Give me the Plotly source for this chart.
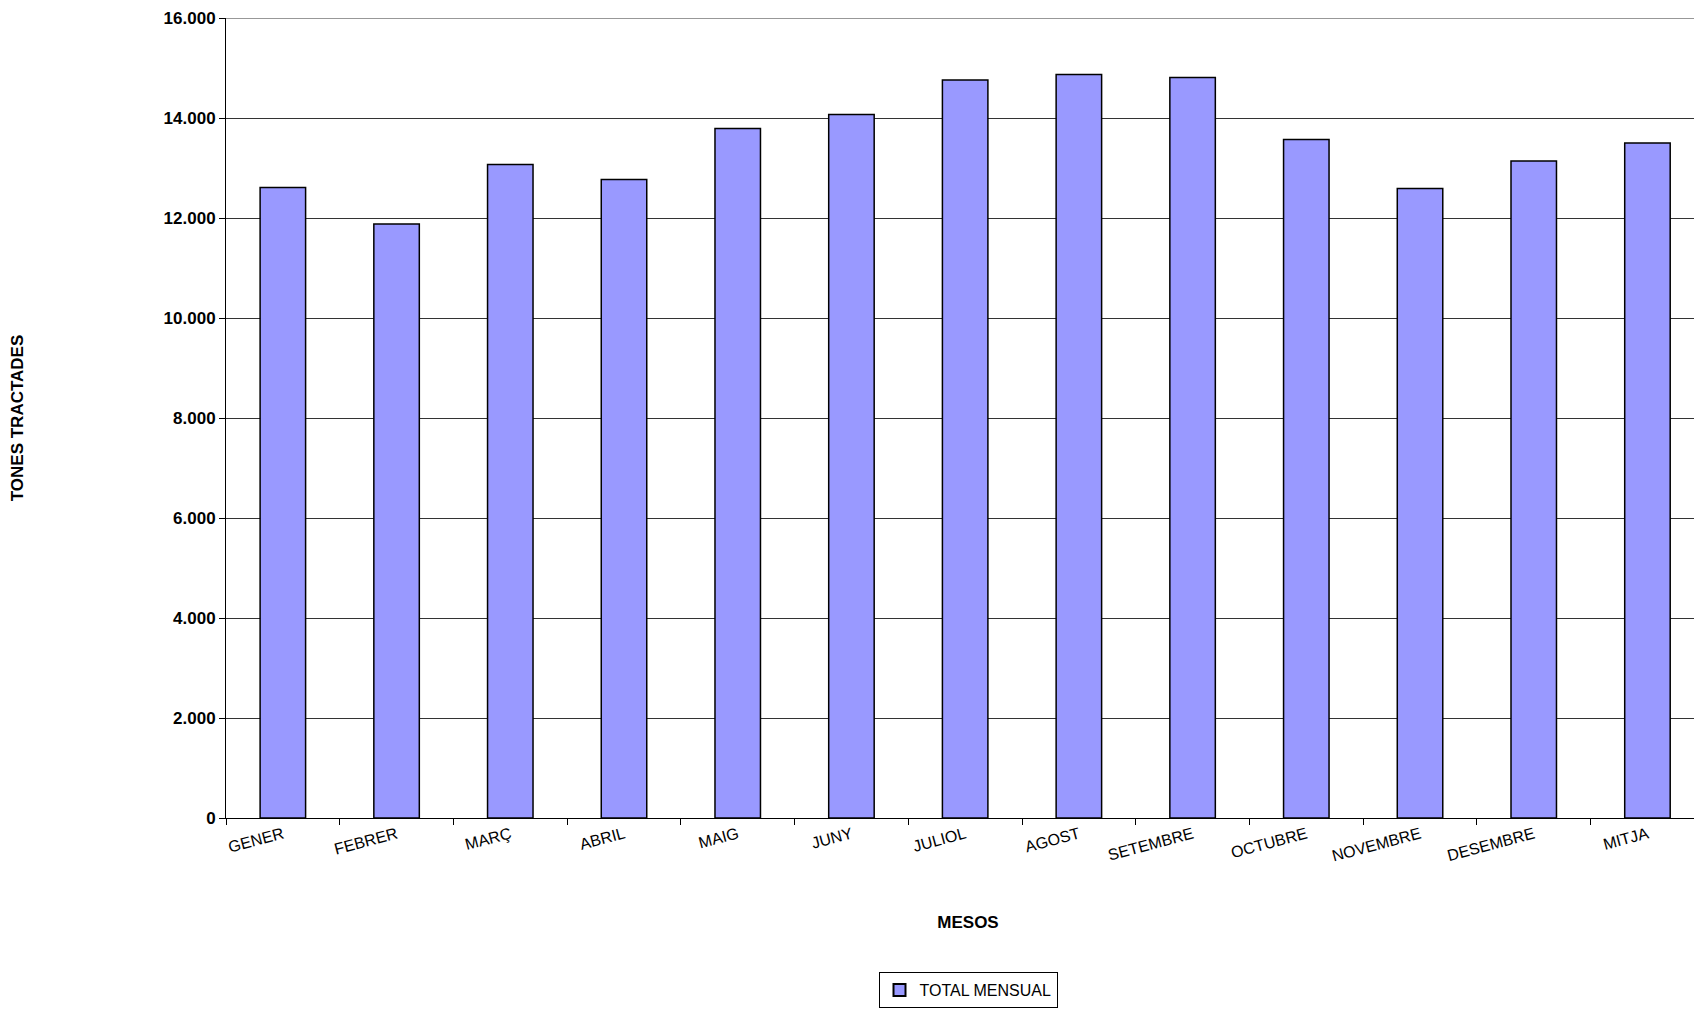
import plotly.graph_objects as go

mesos = ["GENER", "FEBRER", "MARÇ", "ABRIL", "MAIG", "JUNY", "JULIOL", "AGOST",
         "SETEMBRE", "OCTUBRE", "NOVEMBRE", "DESEMBRE", "MITJA"]
tones = [12610, 11880, 13070, 12770, 13790, 14070, 14760, 14870,
         14810, 13570, 12590, 13140, 13500]

fig = go.Figure(go.Bar(
    x=mesos, y=tones, name="TOTAL MENSUAL", width=0.4,
    marker=dict(color="#9999ff", line=dict(color="black", width=1.5)),
))

fig.update_layout(
    width=1702, height=1013,
    margin=dict(l=218, r=0, t=10, b=203),
    plot_bgcolor="white", paper_bgcolor="white",
    separators=",.",
    font=dict(family="Liberation Sans, Arial", color="black"),
    showlegend=True,
    legend=dict(orientation="h", x=0.5, xanchor="center", y=-0.215, yanchor="middle",
                bordercolor="black", borderwidth=1, font=dict(size=16),
                itemsizing="constant"),
    bargap=0.6,
)
fig.update_yaxes(
    range=[0, 16000], dtick=2000, tickformat=",d",
    showgrid=True, gridcolor="#333", gridwidth=1,
    showline=True, linecolor="black", linewidth=1,
    ticks="outside", ticklen=6, tickcolor="black",
    tickfont=dict(size=17),
    tickprefix="<b>", ticksuffix="</b>",
    title=dict(text="<b>TONES TRACTADES</b>", font=dict(size=17), standoff=135),
)
fig.update_xaxes(
    range=[-0.5, 12.55], tickangle=-15,
    showline=True, linecolor="black", linewidth=1,
    ticks="outside", tickson="boundaries", ticklen=6, tickcolor="black",
    tickfont=dict(size=16),
    title=dict(text="<b>MESOS</b>", font=dict(size=17), standoff=52),
)
fig.add_shape(type="line", xref="paper", yref="y", x0=0, x1=1, y0=16000, y1=16000,
              line=dict(color="#333", width=1))

fig.write_html("out.html")
